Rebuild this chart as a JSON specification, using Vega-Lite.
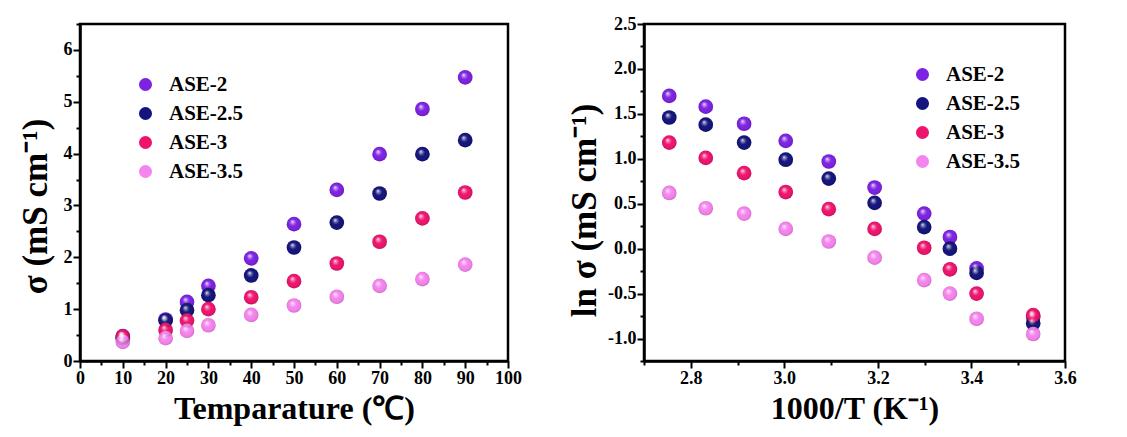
{
  "$schema": "https://vega.github.io/schema/vega-lite/v6.json",
  "background": "white",
  "padding": {"left": 16, "top": 13, "right": 5, "bottom": 0},
  "spacing": 43,
  "datasets": {
    "a": [
      {"s": "ASE-2", "t": 10, "sigma": 0.48},
      {"s": "ASE-2", "t": 20, "sigma": 0.8},
      {"s": "ASE-2", "t": 25, "sigma": 1.14},
      {"s": "ASE-2", "t": 30, "sigma": 1.45},
      {"s": "ASE-2", "t": 40, "sigma": 1.98},
      {"s": "ASE-2", "t": 50, "sigma": 2.64},
      {"s": "ASE-2", "t": 60, "sigma": 3.3},
      {"s": "ASE-2", "t": 70, "sigma": 3.99},
      {"s": "ASE-2", "t": 80, "sigma": 4.86},
      {"s": "ASE-2", "t": 90, "sigma": 5.47},
      {"s": "ASE-2.5", "t": 10, "sigma": 0.44},
      {"s": "ASE-2.5", "t": 20, "sigma": 0.78},
      {"s": "ASE-2.5", "t": 25, "sigma": 0.98},
      {"s": "ASE-2.5", "t": 30, "sigma": 1.27},
      {"s": "ASE-2.5", "t": 40, "sigma": 1.65},
      {"s": "ASE-2.5", "t": 50, "sigma": 2.19},
      {"s": "ASE-2.5", "t": 60, "sigma": 2.67},
      {"s": "ASE-2.5", "t": 70, "sigma": 3.23},
      {"s": "ASE-2.5", "t": 80, "sigma": 3.99},
      {"s": "ASE-2.5", "t": 90, "sigma": 4.26},
      {"s": "ASE-3", "t": 10, "sigma": 0.47},
      {"s": "ASE-3", "t": 20, "sigma": 0.6},
      {"s": "ASE-3", "t": 25, "sigma": 0.78},
      {"s": "ASE-3", "t": 30, "sigma": 1.0},
      {"s": "ASE-3", "t": 40, "sigma": 1.23},
      {"s": "ASE-3", "t": 50, "sigma": 1.54},
      {"s": "ASE-3", "t": 60, "sigma": 1.88},
      {"s": "ASE-3", "t": 70, "sigma": 2.3},
      {"s": "ASE-3", "t": 80, "sigma": 2.75},
      {"s": "ASE-3", "t": 90, "sigma": 3.25},
      {"s": "ASE-3.5", "t": 10, "sigma": 0.37},
      {"s": "ASE-3.5", "t": 20, "sigma": 0.44},
      {"s": "ASE-3.5", "t": 25, "sigma": 0.58},
      {"s": "ASE-3.5", "t": 30, "sigma": 0.69},
      {"s": "ASE-3.5", "t": 40, "sigma": 0.89},
      {"s": "ASE-3.5", "t": 50, "sigma": 1.07},
      {"s": "ASE-3.5", "t": 60, "sigma": 1.24},
      {"s": "ASE-3.5", "t": 70, "sigma": 1.45},
      {"s": "ASE-3.5", "t": 80, "sigma": 1.58},
      {"s": "ASE-3.5", "t": 90, "sigma": 1.86}
    ],
    "b": [
      {"s": "ASE-2", "x": 2.754, "ln": 1.7},
      {"s": "ASE-2", "x": 2.832, "ln": 1.58},
      {"s": "ASE-2", "x": 2.914, "ln": 1.39},
      {"s": "ASE-2", "x": 3.003, "ln": 1.2},
      {"s": "ASE-2", "x": 3.095, "ln": 0.97},
      {"s": "ASE-2", "x": 3.193, "ln": 0.68},
      {"s": "ASE-2", "x": 3.299, "ln": 0.39},
      {"s": "ASE-2", "x": 3.354, "ln": 0.13},
      {"s": "ASE-2", "x": 3.411, "ln": -0.22},
      {"s": "ASE-2", "x": 3.532, "ln": -0.76},
      {"s": "ASE-2.5", "x": 2.754, "ln": 1.46},
      {"s": "ASE-2.5", "x": 2.832, "ln": 1.38},
      {"s": "ASE-2.5", "x": 2.914, "ln": 1.18},
      {"s": "ASE-2.5", "x": 3.003, "ln": 0.99},
      {"s": "ASE-2.5", "x": 3.095, "ln": 0.78},
      {"s": "ASE-2.5", "x": 3.193, "ln": 0.51},
      {"s": "ASE-2.5", "x": 3.299, "ln": 0.24},
      {"s": "ASE-2.5", "x": 3.354, "ln": 0.0},
      {"s": "ASE-2.5", "x": 3.411, "ln": -0.27},
      {"s": "ASE-2.5", "x": 3.532, "ln": -0.83},
      {"s": "ASE-3", "x": 2.754, "ln": 1.18},
      {"s": "ASE-3", "x": 2.832, "ln": 1.01},
      {"s": "ASE-3", "x": 2.914, "ln": 0.84},
      {"s": "ASE-3", "x": 3.003, "ln": 0.63},
      {"s": "ASE-3", "x": 3.095, "ln": 0.44},
      {"s": "ASE-3", "x": 3.193, "ln": 0.22},
      {"s": "ASE-3", "x": 3.299, "ln": 0.01},
      {"s": "ASE-3", "x": 3.354, "ln": -0.23},
      {"s": "ASE-3", "x": 3.411, "ln": -0.5},
      {"s": "ASE-3", "x": 3.532, "ln": -0.74},
      {"s": "ASE-3.5", "x": 2.754, "ln": 0.62},
      {"s": "ASE-3.5", "x": 2.832, "ln": 0.45},
      {"s": "ASE-3.5", "x": 2.914, "ln": 0.39},
      {"s": "ASE-3.5", "x": 3.003, "ln": 0.22},
      {"s": "ASE-3.5", "x": 3.095, "ln": 0.08},
      {"s": "ASE-3.5", "x": 3.193, "ln": -0.1},
      {"s": "ASE-3.5", "x": 3.299, "ln": -0.35},
      {"s": "ASE-3.5", "x": 3.354, "ln": -0.5},
      {"s": "ASE-3.5", "x": 3.411, "ln": -0.78},
      {"s": "ASE-3.5", "x": 3.532, "ln": -0.95}
    ]
  },
  "hconcat": [
    {
      "width": 428,
      "height": 337,
      "data": {"name": "a"},
      "encoding": {
        "x": {
          "field": "t", "type": "quantitative",
          "scale": {"domain": [0, 100], "nice": false, "zero": false},
          "axis": {
            "title": "Temparature (℃)",
            "values": [0, 5, 10, 15, 20, 25, 30, 35, 40, 45, 50, 55, 60, 65, 70, 75, 80, 85, 90, 95, 100],
            "format": ".0f",
            "labelExpr": "datum.value % 10 === 0 ? datum.label : ''",
            "labelOverlap": false,
            "tickSize": {"condition": {"test": "datum.value % 10 === 0", "value": 7}, "value": 4},
            "titleFontSize": 32,
            "titlePadding": 6
          }
        },
        "y": {
          "field": "sigma", "type": "quantitative",
          "scale": {"domain": [0, 6.5], "nice": false, "zero": false},
          "axis": {
            "title": "σ (mS cm⁻¹)",
            "values": [0, 0.5, 1, 1.5, 2, 2.5, 3, 3.5, 4, 4.5, 5, 5.5, 6, 6.5],
            "format": ".0f",
            "labelExpr": "datum.value % 1 === 0 ? datum.label : ''",
            "labelOverlap": false,
            "tickSize": {"condition": {"test": "datum.value % 1 === 0", "value": 7}, "value": 4},
            "titleFontSize": 35,
            "titlePadding": 10,
            "titleY": 182
          }
        }
      },
      "layer": [
        {
          "mark": {"type": "point", "filled": true, "opacity": 1, "size": 215, "shape": "circle"},
          "encoding": {
            "color": {
              "field": "s", "type": "nominal",
              "scale": {"domain": ["ASE-2", "ASE-2.5", "ASE-3", "ASE-3.5"], "range": ["#7d22e2", "#14147c", "#ee146e", "#f584ee"]},
              "legend": {"orient": "none", "legendX": 55, "legendY": 50}
            }
          }
        },
        {
          "mark": {
            "type": "point", "filled": true, "size": 215, "shape": "circle", "opacity": 1,
            "fill": {
              "gradient": "radial", "x1": 0.38, "y1": 0.32, "r1": 0, "x2": 0.5, "y2": 0.5, "r2": 0.55,
              "stops": [
                {"offset": 0, "color": "rgba(255,255,255,0.95)"},
                {"offset": 0.18, "color": "rgba(255,255,255,0.45)"},
                {"offset": 0.45, "color": "rgba(255,255,255,0)"},
                {"offset": 0.8, "color": "rgba(0,0,0,0.05)"},
                {"offset": 1, "color": "rgba(0,0,0,0.25)"}
              ]
            }
          },
          "encoding": {}
        }
      ]
    },
    {
      "width": 421,
      "height": 337,
      "data": {"name": "b"},
      "encoding": {
        "x": {
          "field": "x", "type": "quantitative",
          "scale": {"domain": [2.7, 3.6], "nice": false, "zero": false},
          "axis": {
            "title": "1000/T (K⁻¹)",
            "values": [2.7, 2.8, 2.9, 3.0, 3.1, 3.2, 3.3, 3.4, 3.5, 3.6],
            "format": ".1f",
            "labelExpr": "abs(datum.value*5 - round(datum.value*5)) < 0.001 ? datum.label : ''",
            "labelOverlap": false,
            "tickSize": {"condition": {"test": "abs(datum.value*5 - round(datum.value*5)) < 0.001", "value": 7}, "value": 4},
            "titleFontSize": 32,
            "titlePadding": 6
          }
        },
        "y": {
          "field": "ln", "type": "quantitative",
          "scale": {"domain": [-1.25, 2.5], "nice": false, "zero": false},
          "axis": {
            "title": "ln σ (mS cm⁻¹)",
            "values": [-1.25, -1, -0.75, -0.5, -0.25, 0, 0.25, 0.5, 0.75, 1, 1.25, 1.5, 1.75, 2, 2.25, 2.5],
            "format": ".1f",
            "labelExpr": "abs(datum.value*2 - round(datum.value*2)) < 0.001 ? datum.label : ''",
            "labelOverlap": false,
            "tickSize": {"condition": {"test": "abs(datum.value*2 - round(datum.value*2)) < 0.001", "value": 7}, "value": 4},
            "titleFontSize": 35,
            "titlePadding": 5,
            "titleY": 186
          }
        }
      },
      "layer": [
        {
          "mark": {"type": "point", "filled": true, "opacity": 1, "size": 215, "shape": "circle"},
          "encoding": {
            "color": {
              "field": "s", "type": "nominal",
              "scale": {"domain": ["ASE-2", "ASE-2.5", "ASE-3", "ASE-3.5"], "range": ["#7d22e2", "#14147c", "#ee146e", "#f584ee"]},
              "legend": {"orient": "none", "legendX": 268, "legendY": 40}
            }
          }
        },
        {
          "mark": {
            "type": "point", "filled": true, "size": 215, "shape": "circle", "opacity": 1,
            "fill": {
              "gradient": "radial", "x1": 0.38, "y1": 0.32, "r1": 0, "x2": 0.5, "y2": 0.5, "r2": 0.55,
              "stops": [
                {"offset": 0, "color": "rgba(255,255,255,0.95)"},
                {"offset": 0.18, "color": "rgba(255,255,255,0.45)"},
                {"offset": 0.45, "color": "rgba(255,255,255,0)"},
                {"offset": 0.8, "color": "rgba(0,0,0,0.05)"},
                {"offset": 1, "color": "rgba(0,0,0,0.25)"}
              ]
            }
          },
          "encoding": {}
        }
      ]
    }
  ],
  "resolve": {"scale": {"color": "independent"}, "legend": {"color": "independent"}},
  "config": {
    "locale": {"number": {"decimal": ".", "thousands": ",", "grouping": [3], "currency": ["$", ""], "minus": "-"}},
    "view": {"stroke": "black", "strokeWidth": 2.5},
    "font": "Liberation Serif",
    "axis": {
      "grid": false,
      "domainColor": "black",
      "domainWidth": 2.5,
      "tickColor": "black",
      "tickWidth": 2,
      "labelFont": "Liberation Serif",
      "labelFontWeight": "bold",
      "labelFontSize": 18,
      "labelColor": "black",
      "labelPadding": 1,
      "labelFlush": false,
      "labelOverlap": false,
      "titleFont": "Liberation Serif",
      "titleFontWeight": "bold",
      "titleColor": "black"
    },
    "legend": {
      "title": null,
      "symbolType": "circle",
      "symbolSize": 170,
      "symbolOpacity": 1,
      "symbolStrokeWidth": 0,
      "labelFont": "Liberation Serif",
      "labelFontWeight": "bold",
      "labelFontSize": 21,
      "labelColor": "black",
      "labelOffset": 13,
      "rowPadding": 7,
      "labelLimit": 300
    }
  }
}
